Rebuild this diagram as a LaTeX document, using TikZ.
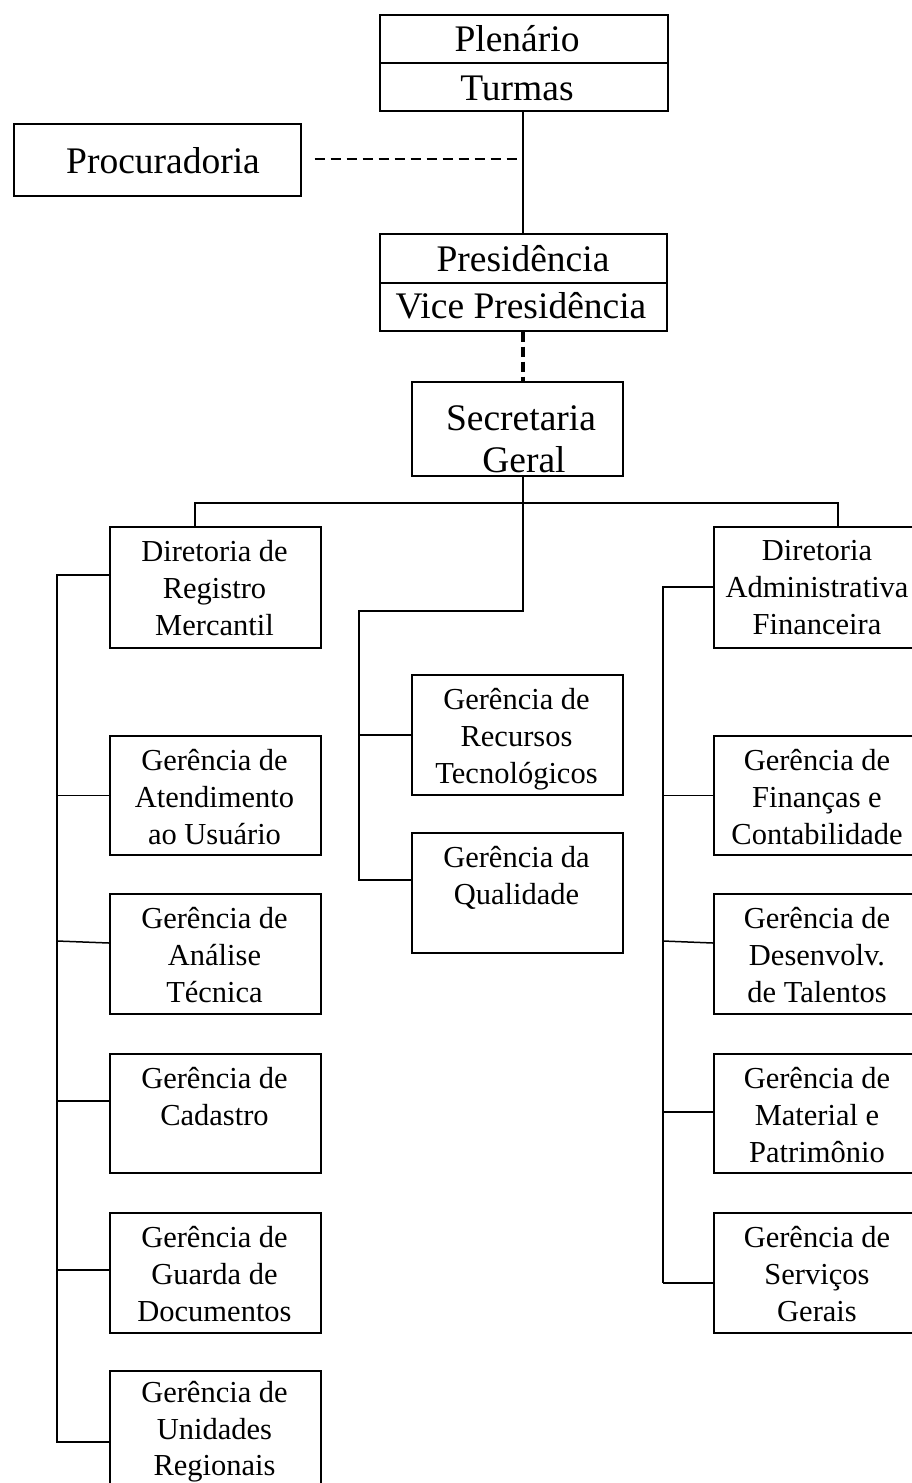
\documentclass[tikz,border=0pt]{standalone}
\usepackage{fontspec}
\setmainfont{Liberation Serif}
\begin{document}
\begin{tikzpicture}[x=1pt,y=-1pt,
  line width=1.5pt,
  cell/.style={draw, line width=1.6pt, rectangle, inner sep=0pt, anchor=north west},
  big/.style={font=\fontsize{37.5}{40}\selectfont, inner sep=0pt, anchor=base},
  small/.style={font=\fontsize{30.5}{37}\selectfont, align=center, inner sep=0pt, anchor=north},
  link/.style={line width=1.5pt},
  dlink/.style={line width=1.5pt, dash pattern=on 10pt off 6pt},
  thickdash/.style={line width=4pt, dash pattern=on 10pt off 5pt}
]
\useasboundingbox (0,0) rectangle (912,1483);
\clip (0,0) rectangle (912,1483);

% top
\node[cell, minimum width=288pt, minimum height=48pt] (plen) at (379,14) {};
\node[cell, minimum width=288pt, minimum height=48pt] (turm) at (379,62) {};
\node[big] (tplen) at (517,51) {Plenário};
\node[big] (tturm) at (517,100) {Turmas};

\node[cell, minimum width=287pt, minimum height=72pt] (proc) at (13,123) {};
\node[big] (tproc) at (163,173) {Procuradoria};

\node[cell, minimum width=287pt, minimum height=49pt] (pres) at (379,233) {};
\node[cell, minimum width=287pt, minimum height=48pt] (vice) at (379,282) {};
\node[big] (tpres) at (523,271) {Presidência};
\node[big] (tvice) at (521,318) {Vice Presidência};

\node[cell, minimum width=211pt, minimum height=94pt] (sec) at (411,381) {};
\node[big] (tsec1) at (521,430) {Secretaria};
\node[big] (tsec2) at (524,472) {Geral};

% directorates
\node[cell, minimum width=211pt, minimum height=121pt] (dirL) at (109,526) {};
\node[small] (tdirL) at (214.5,540) {Diretoria de\\Registro\\Mercantil};
\node[cell, minimum width=230pt, minimum height=121pt] (dirA) at (713,526) {};
\node[small] (tdirA) at (817,540) {Diretoria\\Administrativa\\Financeira};

% center
\node[cell, minimum width=211pt, minimum height=120pt] (rec) at (411,674) {};
\node[small] (trec) at (516.5,688) {Gerência de\\Recursos\\Tecnológicos};
\node[cell, minimum width=211pt, minimum height=120pt] (qual) at (411,832) {};
\node[small] (tqual) at (516.5,846) {Gerência da\\Qualidade};

% left column
\node[cell, minimum width=211pt, minimum height=119pt] (aten) at (109,735) {};
\node[small] (taten) at (214.5,749) {Gerência de\\Atendimento\\ao Usuário};
\node[cell, minimum width=211pt, minimum height=120pt] (anal) at (109,893) {};
\node[small] (tanal) at (214.5,907) {Gerência de\\Análise\\Técnica};
\node[cell, minimum width=211pt, minimum height=119pt] (cad) at (109,1053) {};
\node[small] (tcad) at (214.5,1067) {Gerência de\\Cadastro};
\node[cell, minimum width=211pt, minimum height=120pt] (guar) at (109,1212) {};
\node[small] (tguar) at (214.5,1226) {Gerência de\\Guarda de\\Documentos};
\node[cell, minimum width=211pt, minimum height=130pt] (unid) at (109,1370) {};
\node[small, font=\fontsize{30.5}{36.5}\selectfont] (tunid) at (214.5,1381) {Gerência de\\Unidades\\Regionais};

% right column
\node[cell, minimum width=230pt, minimum height=119pt] (fin) at (713,735) {};
\node[small] (tfin) at (817,749) {Gerência de\\Finanças e\\Contabilidade};
\node[cell, minimum width=230pt, minimum height=120pt] (des) at (713,893) {};
\node[small] (tdes) at (817,907) {Gerência de\\Desenvolv.\\de Talentos};
\node[cell, minimum width=230pt, minimum height=119pt] (mat) at (713,1053) {};
\node[small] (tmat) at (817,1067) {Gerência de\\Material e\\Patrimônio};
\node[cell, minimum width=230pt, minimum height=120pt] (serv) at (713,1212) {};
\node[small] (tserv) at (817,1226) {Gerência de\\Serviços\\Gerais};

% connectors top
\coordinate (pj) at (523,159);
\draw[link] (turm.south -| pj) -- (pres.north -| pj);
\draw[dlink] ([xshift=13pt]proc.east |- pj) -- (pj);
\draw[thickdash] (vice.south -| pj) -- (sec.north -| pj);

% secretaria to directorates
\coordinate (bar) at (523,503);
\coordinate (bl) at (195,503);
\coordinate (br) at (838,503);
\draw[link] (sec.south -| bar) -- (bar);
\draw[link] (dirL.north -| bl) -- (bl) -- (br) -- (dirA.north -| br);

% center branch
\coordinate (cturn) at (523,611);
\coordinate (cl) at (359,611);
\draw[link] (bar) -- (cturn) -- (cl) -- (cl |- qual.north west) -- ++(0,48) -- ([yshift=-48pt]qual.north west);
\draw[link] (cl |- rec.west) -- (rec.west);

% left spine
\coordinate (ls) at (57,575);
\coordinate (lb) at (57,1443);
\draw[link] (dirL.north west |- ls) -- (ls) -- (lb);
\draw[link] (ls |- aten.west) -- (aten.west);
\draw[link] (57,941) -- ([yshift=-50pt]anal.north west);
\draw[link] (57,1101) -- ([yshift=-48pt]cad.north west);
\draw[link] (57,1270) -- ([yshift=-58pt]guar.north west);
\draw[link] (57,1442) -- ([yshift=-72pt]unid.north west);

% right spine
\coordinate (rs) at (663,587);
\coordinate (rb) at (663,1283);
\draw[link] (dirA.north west |- rs) -- (rs) -- (rb);
\draw[link] (rs |- fin.west) -- (fin.west);
\draw[link] (663,941) -- ([yshift=-50pt]des.north west);
\draw[link] (663,1112) -- ([yshift=-59pt]mat.north west);
\draw[link] (rb) -- ([yshift=-71pt]serv.north west);
\end{tikzpicture}
\end{document}
